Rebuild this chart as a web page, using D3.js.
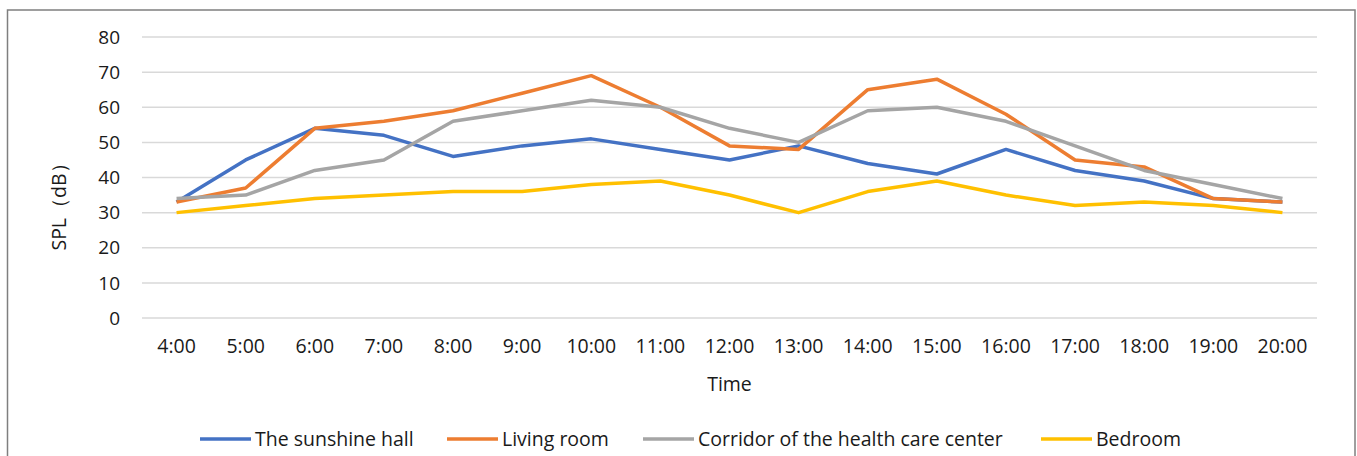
<!DOCTYPE html>
<html>
<head>
<meta charset="utf-8">
<script src="https://cdn.jsdelivr.net/npm/d3@7"></script>
<style>
  body { margin: 0; background: #fff; }
  text { font-family: "Open Sans", "Noto Sans", sans-serif; fill: #1a1a1a; }
</style>
</head>
<body>
<svg id="chart" width="1357" height="456"></svg>
<script>
// categories and series
const hours = ["4:00", "5:00", "6:00", "7:00", "8:00", "9:00", "10:00", "11:00", "12:00",
    "13:00", "14:00", "15:00", "16:00", "17:00", "18:00", "19:00", "20:00"];
const sunshineHall = [33, 45, 54, 52, 46, 49, 51, 48, 45, 49, 44, 41, 48, 42, 39, 34, 33];
const livingRoom = [33, 37, 54, 56, 59, 64, 69, 60, 49, 48, 65, 68, 58, 45, 43, 34, 33];
const corridor = [34, 35, 42, 45, 56, 59, 62, 60, 54, 50, 59, 60, 56, 49, 42, 38, 34];
const bedroom = [30, 32, 34, 35, 36, 36, 38, 39, 35, 30, 36, 39, 35, 32, 33, 32, 30];
const yTicks = [0, 10, 20, 30, 40, 50, 60, 70, 80];

const seriesNames = ["The sunshine hall", "Living room", "Corridor of the health care center", "Bedroom"];
const seriesValues = [sunshineHall, livingRoom, corridor, bedroom];
const colors = ["#4472C4", "#ED7D31", "#A5A5A5", "#FFC000"];

const svg = d3.select("#chart");

// outer frame
svg.append("rect")
    .attr("x", 7.5)
    .attr("y", 10)
    .attr("width", 1347.5)
    .attr("height", 470)
    .attr("fill", "none")
    .attr("stroke", "#7f7f7f")
    .attr("stroke-width", 1.5);

const plotLeft = 142, plotRight = 1317, plotTop = 37, plotBottom = 318;

const x = d3.scaleBand()
    .domain(hours)
    .range([plotLeft, plotRight]);

const y = d3.scaleLinear()
    .domain([0, 80])
    .range([plotBottom, plotTop]);

// gridlines
svg.selectAll("line.grid")
    .data(yTicks)
    .enter()
    .append("line")
    .attr("class", "grid")
    .attr("x1", plotLeft)
    .attr("x2", plotRight)
    .attr("y1", d => y(d))
    .attr("y2", d => y(d))
    .attr("stroke", "#d9d9d9")
    .attr("stroke-width", 1.5);

// y axis labels
svg.selectAll("text.ytick")
    .data(yTicks)
    .enter()
    .append("text")
    .attr("class", "ytick")
    .attr("x", 120)
    .attr("y", d => y(d))
    .attr("dy", "0.35em")
    .attr("text-anchor", "end")
    .style("font-size", "19px")
    .text(d => d);

// x axis labels
svg.selectAll("text.xtick")
    .data(hours)
    .enter()
    .append("text")
    .attr("class", "xtick")
    .attr("x", d => x(d) + x.bandwidth() / 2)
    .attr("y", 353)
    .attr("text-anchor", "middle")
    .style("font-size", "19.5px")
    .text(d => d);

// axis titles
svg.append("text")
    .attr("x", (plotLeft + plotRight) / 2)
    .attr("y", 391)
    .attr("text-anchor", "middle")
    .style("font-size", "19.5px")
    .text("Time");

svg.append("text")
    .attr("transform", "translate(66,202) rotate(-90)")
    .attr("text-anchor", "middle")
    .style("font-size", "19.5px")
    .text("SPL（dB）");

// lines
const line = d3.line()
    .x((d, i) => x(hours[i]) + x.bandwidth() / 2)
    .y(d => y(d));

svg.selectAll("path.series")
    .data(seriesValues)
    .enter()
    .append("path")
    .attr("class", "series")
    .attr("d", d => line(d))
    .attr("fill", "none")
    .attr("stroke", (d, i) => colors[i])
    .attr("stroke-width", 3.5)
    .attr("stroke-linejoin", "round");

// legend
const legendX = [200, 447, 643, 1041];
const legend = svg.selectAll("g.legend")
    .data(seriesNames)
    .enter()
    .append("g")
    .attr("class", "legend")
    .attr("transform", (d, i) => `translate(${legendX[i]},439)`);

legend.append("line")
    .attr("x1", 0)
    .attr("x2", 51)
    .attr("stroke", (d, i) => colors[i])
    .attr("stroke-width", 3.5);

legend.append("text")
    .attr("x", 55)
    .attr("dy", "0.35em")
    .style("font-size", "19.5px")
    .text(d => d);
</script>
</body>
</html>
